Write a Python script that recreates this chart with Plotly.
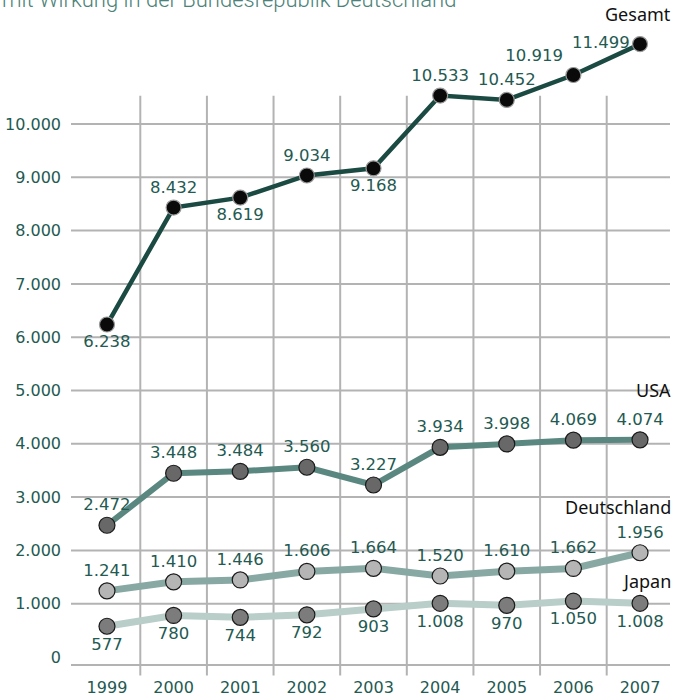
import plotly.graph_objects as go

# Data
years = [1999, 2000, 2001, 2002, 2003, 2004, 2005, 2006, 2007]
gesamt = [6238, 8432, 8619, 9034, 9168, 10533, 10452, 10919, 11499]
usa = [2472, 3448, 3484, 3560, 3227, 3934, 3998, 4069, 4074]
deutschland = [1241, 1410, 1446, 1606, 1664, 1520, 1610, 1662, 1956]
japan = [577, 780, 744, 792, 903, 1008, 970, 1050, 1008]
y_ticks = [0, 1000, 2000, 3000, 4000, 5000, 6000, 7000, 8000, 9000, 10000]
grid_lines = [1000, 2000, 3000, 4000, 5000, 6000, 7000, 8000, 9000, 10000]

TEAL = "#235a52"
GRID = "#b3b3b3"
label_font = dict(family="DejaVu Sans", size=16.5, color=TEAL)

y_range = [-131, 11876]
x_range = [1998.46, 2007.45]

gesamt_pos = ["bottom center", "top center", "bottom center", "top center", "bottom center",
              "top center", "top center", "top left", "middle left"]

fig = go.Figure()

# Japan
fig.add_trace(go.Scatter(
    x=years, y=japan, mode="lines+markers+text",
    line=dict(color="#b9cdc9", width=7),
    marker=dict(size=16, color="#7c7c7c", line=dict(color="#1a1a1a", width=1.2)),
    texttemplate="%{y:,}", textposition="bottom center",
    textfont=label_font, cliponaxis=False, showlegend=False))

# Deutschland
fig.add_trace(go.Scatter(
    x=years, y=deutschland, mode="lines+markers+text",
    line=dict(color="#88a9a3", width=7),
    marker=dict(size=16, color="#b5b5b5", line=dict(color="#1a1a1a", width=1.2)),
    texttemplate="%{y:,}", textposition="top center",
    textfont=label_font, cliponaxis=False, showlegend=False))

# USA
fig.add_trace(go.Scatter(
    x=years, y=usa, mode="lines+markers+text",
    line=dict(color="#5a8880", width=6),
    marker=dict(size=16, color="#686868", line=dict(color="#1a1a1a", width=1.2)),
    texttemplate="%{y:,}", textposition="top center",
    textfont=label_font, cliponaxis=False, showlegend=False))

# Gesamt
fig.add_trace(go.Scatter(
    x=years, y=gesamt, mode="lines+markers+text",
    line=dict(color="#1b4a43", width=4.5),
    marker=dict(size=15, color="#0a0a0a", line=dict(color="#9a9a9a", width=1.2)),
    texttemplate="%{y:,}", textposition=gesamt_pos,
    textfont=label_font, cliponaxis=False, showlegend=False))

# grid: horizontal lines + vertical separators between years
for v in grid_lines:
    fig.add_shape(type="line", xref="paper", yref="y", x0=0, x1=1, y0=v, y1=v,
                  line=dict(color=GRID, width=2), layer="below")
top = (10530 - y_range[0]) / (y_range[1] - y_range[0])
for yr in years[:-1]:
    fig.add_shape(type="line", xref="x", yref="paper", x0=yr + 0.5, x1=yr + 0.5,
                  y0=-0.018, y1=top, line=dict(color=GRID, width=2), layer="below")

# series names
names = [("Gesamt", gesamt[-1], 30), ("USA", usa[-1], 50),
         ("Deutschland", deutschland[-1], 46), ("Japan", japan[-1], 22)]
for name, val, ys in names:
    fig.add_annotation(x=years[-1], y=val, text=name, showarrow=False,
                       xanchor="right", yanchor="middle", xshift=33, yshift=ys,
                       font=dict(family="Noto Sans", size=18, color="#111111"))

# subtitle, cut off at the top edge like in the original
fig.add_annotation(xref="paper", yref="paper", x=0, y=1.039, xshift=-71,
                   xanchor="left", yanchor="middle", showarrow=False,
                   text="mit Wirkung in der Bundesrepublik Deutschland",
                   font=dict(family="Roboto", size=22, weight=300, color="#4b8279"))

fig.update_layout(
    width=680, height=698,
    margin=dict(l=71, r=10, t=24, b=34, autoexpand=False),
    plot_bgcolor="white", paper_bgcolor="white",
    separators=",.",
    xaxis=dict(range=x_range, tickvals=years, ticktext=[str(y) for y in years],
               automargin=False,
               showgrid=False, zeroline=False, showline=True, linecolor=GRID, linewidth=2,
               ticks="", ticklabelstandoff=8,
               tickfont=dict(family="DejaVu Sans", size=16, color=TEAL)),
    yaxis=dict(range=y_range, tickvals=y_ticks, tickformat=",",
               automargin=False,
               showgrid=False, zeroline=False, ticks="", ticklabelstandoff=9,
               tickfont=dict(family="DejaVu Sans", size=16, color=TEAL)),
)

# page body has a default 8px margin; drop it so the figure sits at the corner
fig.write_html("out.html", config={"displayModeBar": False},
               post_script="document.body.style.margin='0';")
